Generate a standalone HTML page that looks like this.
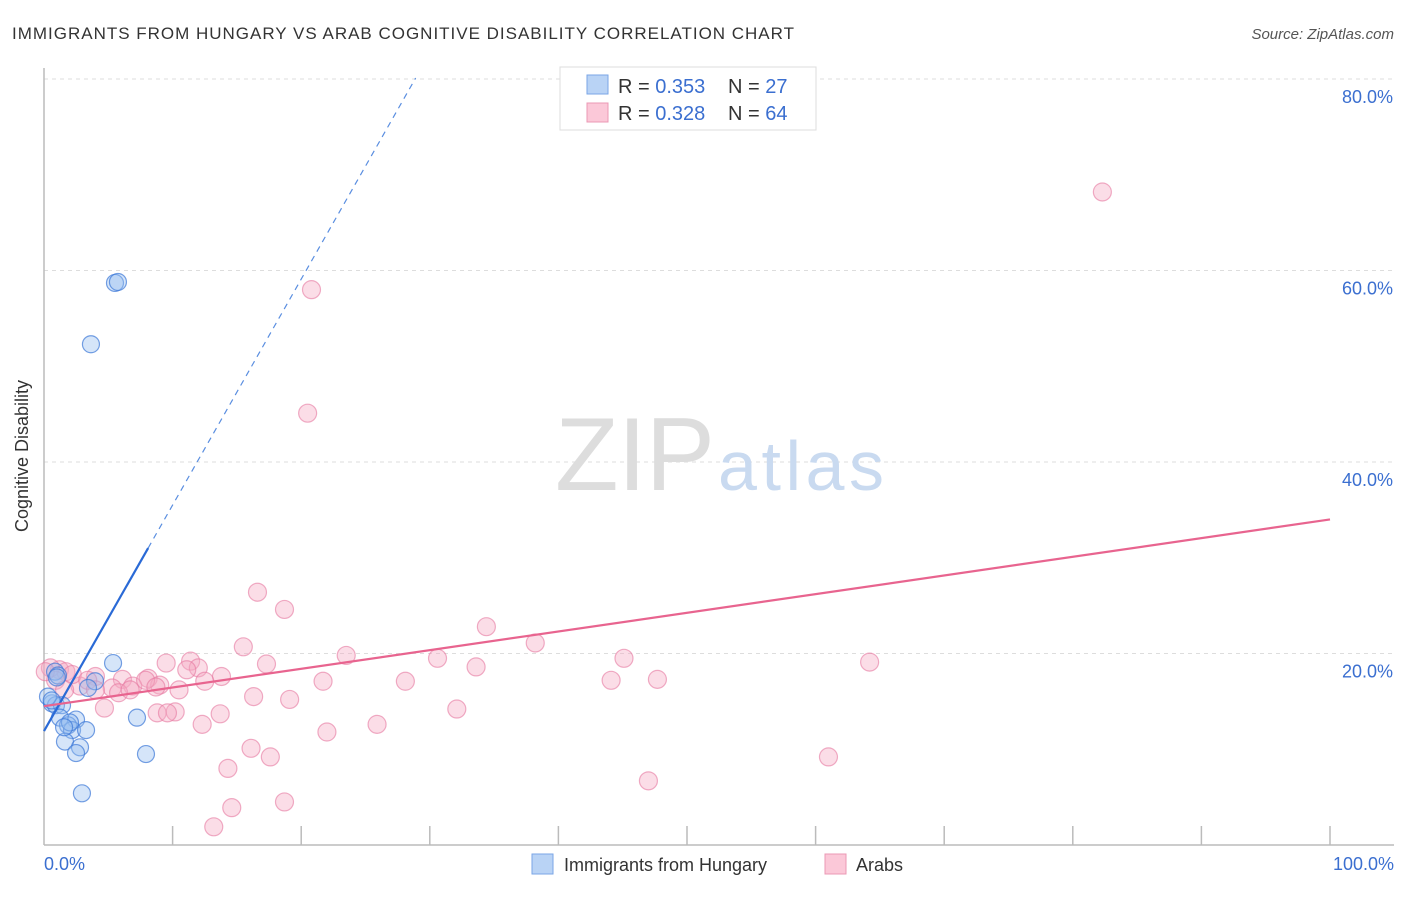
<!DOCTYPE html>
<html><head><meta charset="utf-8"><style>
body{margin:0;background:#fff;font-family:"Liberation Sans",sans-serif;}
svg text{font-family:"Liberation Sans",sans-serif;}
</style></head><body>
<svg id="chart" width="1406" height="892" xmlns="http://www.w3.org/2000/svg">
<text x="12" y="39" font-size="17" fill="#333" textLength="782" lengthAdjust="spacing">IMMIGRANTS FROM HUNGARY VS ARAB COGNITIVE DISABILITY CORRELATION CHART</text>
<text x="1394" y="39" font-size="15" fill="#555" font-style="italic" text-anchor="end">Source: ZipAtlas.com</text>
<g id="grid"></g>
<g>
<text x="635" y="490" font-family="Liberation Serif" font-size="104" fill="#ddd" text-anchor="middle" textLength="160">ZIP</text>
<text x="801" y="490" font-size="70" fill="#c9daf0" text-anchor="middle" textLength="166">atlas</text>
</g>
<line x1="44" y1="68" x2="44" y2="845" stroke="#bbb" stroke-width="1.5"/>
<line x1="44" y1="845" x2="1394" y2="845" stroke="#bbb" stroke-width="1.5"/>
<text x="28" y="456" font-size="18" fill="#333" text-anchor="middle" transform="rotate(-90 28 456)">Cognitive Disability</text>
<text x="44" y="870" font-size="18" fill="#3b6fd0">0.0%</text>
<text x="1394" y="870" font-size="18" fill="#3b6fd0" text-anchor="end">100.0%</text>
<g id="ticks"></g>
<g id="pinkpts"></g>
<g id="bluepts"></g>
<g id="lines"></g>
<g>
<rect x="560" y="67" width="256" height="63" fill="#fff" stroke="#ddd"/>
<rect x="587" y="75" width="21" height="19" fill="#b9d3f5" stroke="#7aa6e6"/>
<rect x="587" y="103" width="21" height="19" fill="#fbc8d8" stroke="#eb98b4"/>
<text x="618" y="93" font-size="20" fill="#333">R = <tspan fill="#3b6fd0">0.353</tspan></text>
<text x="728" y="93" font-size="20" fill="#333">N = <tspan fill="#3b6fd0"> 27</tspan></text>
<text x="618" y="120" font-size="20" fill="#333">R = <tspan fill="#3b6fd0">0.328</tspan></text>
<text x="728" y="120" font-size="20" fill="#333">N = <tspan fill="#3b6fd0">64</tspan></text>
</g>
<g>
<rect x="532" y="854" width="21" height="20" fill="#b9d3f5" stroke="#7aa6e6"/>
<text x="564" y="871" font-size="18" fill="#333">Immigrants from Hungary</text>
<rect x="825" y="854" width="21" height="20" fill="#fbc8d8" stroke="#eb98b4"/>
<text x="856" y="871" font-size="18" fill="#333">Arabs</text>
</g>
</svg>
<script>
const yTicks=[20,40,60,80];
const yTickLabels=["20.0%","40.0%","60.0%","80.0%"];
const xTicks=[10,20,30,40,50,60,70,80,90,100];
const blueX=[5.52,5.75,3.65,5.37,3.97,3.42,0.62,0.93,1.40,1.24,2.49,1.87,2.18,3.27,1.63,2.80,2.49,7.23,7.93,2.95,0.86,1.09,0.31,2.02,1.56,0.6,1.0];
const blueY=[58.7,58.8,52.3,19.0,17.1,16.4,14.8,14.6,14.6,13.3,13.1,12.5,12.0,12.0,10.8,10.2,9.6,13.3,9.5,5.4,18.1,17.7,15.5,12.8,12.3,15.1,17.5];
const pinkX=[82.3,20.8,20.5,16.6,18.7,34.4,15.5,38.2,23.5,45.1,64.2,33.6,30.6,17.3,11.4,9.5,12.0,11.1,13.8,12.5,21.7,28.1,44.1,47.7,8.1,6.1,4.0,5.3,6.9,2.8,16.3,19.1,10.5,9.0,4.7,8.8,13.7,10.2,9.6,12.3,22.0,25.9,32.1,16.1,17.6,14.3,14.6,18.7,13.2,47.0,61.0,1.2,1.7,2.2,0.5,0.9,0.1,3.4,1.6,5.8,6.7,7.9,8.7,4.0];
const pinkY=[68.2,58.0,45.1,26.4,24.6,22.8,20.7,21.1,19.8,19.5,19.1,18.6,19.5,18.9,19.2,19.0,18.5,18.3,17.6,17.1,17.1,17.1,17.2,17.3,17.4,17.3,17.6,16.4,16.6,16.6,15.5,15.2,16.2,16.7,14.3,13.8,13.7,13.9,13.8,12.6,11.8,12.6,14.2,10.1,9.2,8.0,3.9,4.5,1.9,6.7,9.2,18.3,18.1,17.8,18.5,17.2,18.1,17.2,16.2,15.9,16.2,17.2,16.5,16.2];
const blueLine=[11.9,2.36];
const pinkLine=[14.5,0.195];
const NS="http://www.w3.org/2000/svg";
const sx=v=>44+v*12.86, sy=v=>845-v*9.575;
function mk(tag,attrs,parent){const e=document.createElementNS(NS,tag);for(const k in attrs)e.setAttribute(k,attrs[k]);document.getElementById(parent).appendChild(e);return e;}
yTicks.forEach((t,i)=>{
 const l=mk('line',{x1:44,x2:1394,y1:sy(t),y2:sy(t),stroke:'#ddd','stroke-dasharray':'4,4'},'grid');
 
 
 const tx=mk('text',{x:1393,y:sy(t)+24,'font-size':18,fill:'#3b6fd0','text-anchor':'end'},'grid');
 tx.textContent=yTickLabels[i];
 
 
});
xTicks.forEach(t=>{
 const l=mk('line',{x1:sx(t),x2:sx(t),y1:826,y2:845,stroke:'#bbb','stroke-width':1.5},'ticks');
 
 
});
pinkX.forEach((x,i)=>{
 const c=mk('circle',{cx:sx(x),cy:sy(pinkY[i]),r:9,fill:'rgba(246,170,195,0.4)',stroke:'rgba(230,120,160,0.6)','stroke-width':1.2},'pinkpts');
 
 
});
blueX.forEach((x,i)=>{
 const c=mk('circle',{cx:sx(x),cy:sy(blueY[i]),r:8.5,fill:'rgba(150,190,240,0.4)',stroke:'rgba(60,120,215,0.7)','stroke-width':1.2},'bluepts');
 
 
});
const bl=mk('line',{x1:sx(0),y1:sy(blueLine[0]),x2:sx(8.1),y2:sy(blueLine[0]+blueLine[1]*8.1),stroke:'#2a6ad6','stroke-width':2.2},'lines');


const bd=mk('line',{x1:sx(8.1),y1:sy(blueLine[0]+blueLine[1]*8.1),x2:sx(28.9),y2:sy(blueLine[0]+blueLine[1]*28.9),stroke:'#5a8ee0','stroke-width':1.2,'stroke-dasharray':'6,5'},'lines');


const pl=mk('line',{x1:sx(0),y1:sy(pinkLine[0]),x2:sx(100),y2:sy(pinkLine[0]+pinkLine[1]*100),stroke:'#e8648f','stroke-width':2.2},'lines');


</script>
</body></html>
